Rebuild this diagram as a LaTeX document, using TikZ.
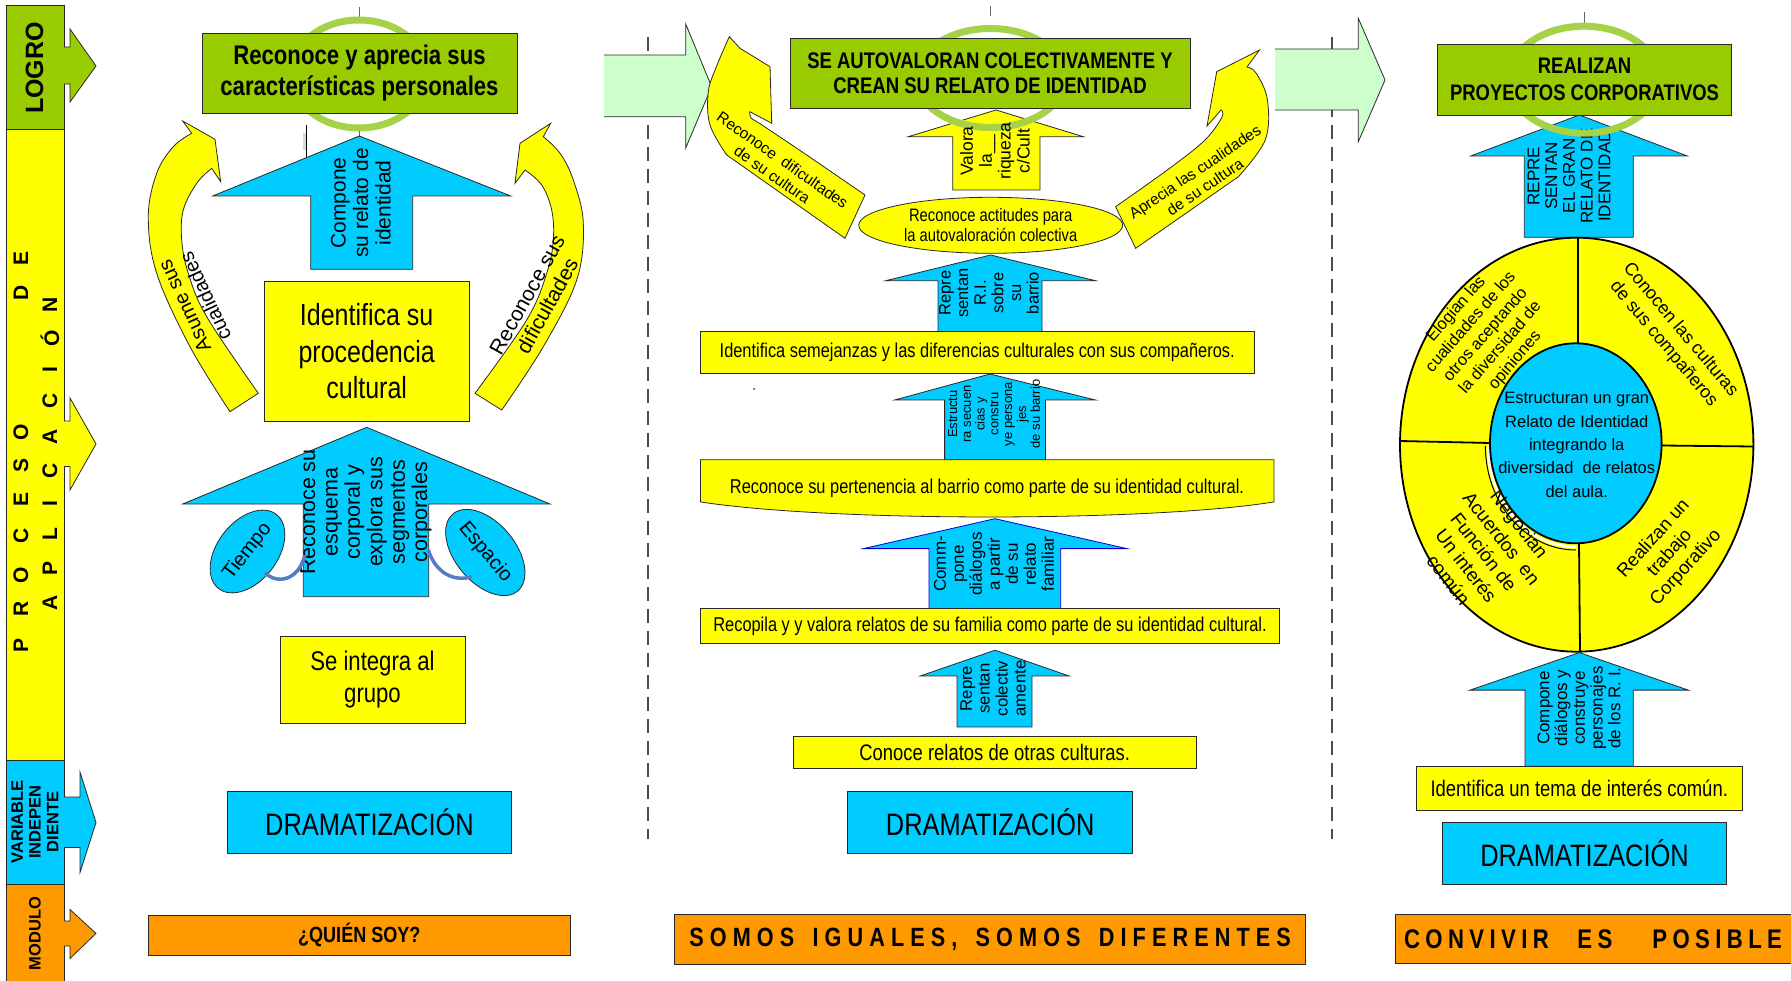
\documentclass[tikz,border=0pt]{standalone}
\usepackage{fontspec}
\setmainfont{Liberation Sans}
\newfontfamily\narrow[FakeStretch=0.82]{Liberation Sans}
\usetikzlibrary{shapes.geometric}
\definecolor{lgreen}{RGB}{153,204,0}
\definecolor{ringgreen}{RGB}{165,210,70}
\definecolor{ylw}{RGB}{255,255,0}
\definecolor{cyn}{RGB}{0,204,255}
\definecolor{org}{RGB}{255,153,0}
\definecolor{pale}{RGB}{204,255,204}
\definecolor{conn}{RGB}{84,125,200}
\definecolor{edge}{RGB}{40,40,40}
\newcommand\fs[2]{\fontsize{#1}{#2}\selectfont}
\makeatletter
\newcommand\spaced[1]{\sp@ced#1\relax}
\def\sp@ced#1{\ifx#1\relax\kern-\spk\else\ifx#1|\hspace{\spw}\else#1\kern\spk\fi\expandafter\sp@ced\fi}
\makeatother
% #1 style, #2 tip x, #3 tip y, #4 head base y, #5 head left x, #6 shaft left x, #7 shaft right x, #8 head right x, #9 bottom y
\newcommand\blockup[9]{\draw[#1] (#2,#3) -- (#8,#4) -- (#7,#4) -- (#7,#9) -- (#6,#9) -- (#6,#4) -- (#5,#4) -- cycle;}
% bar arrows
\newcommand\barrow[8]{%
 \fill[#1] (64,#3) -- (#2,#3) -- (#2,#5) -- (#7,#8) -- (#2,#6) -- (#2,#4) -- (64,#4) -- cycle;
 \draw[shp] (64,#3) -- (#2,#3) -- (#2,#5) -- (#7,#8) -- (#2,#6) -- (#2,#4) -- (64,#4);}
\newcommand\palearrow[8]{%
 \fill[pale] (#1,#3) -- (#2,#3) -- (#2,#5) -- (#7,#8) -- (#2,#6) -- (#2,#4) -- (#1,#4) -- cycle;
 \draw[shp] (#1,#3) -- (#2,#3) -- (#2,#5) -- (#7,#8) -- (#2,#6) -- (#2,#4) -- (#1,#4);}
\begin{document}
\begin{tikzpicture}[x=1pt,y=-1pt,
  shp/.style={draw=edge, line width=0.8pt},
  tx/.style={inner sep=0pt, align=center, text=black},
  bx/.style={draw=edge, line width=0.8pt, inner sep=0pt, align=center},
  sepline/.style={draw=black!70, line width=1.3pt, dash pattern=on 14pt off 8pt},
  ring/.style={draw=ringgreen, line width=7pt},
  tick/.style={draw=black!60, line width=0.8pt},
  link/.style={draw=conn, line width=3.5pt},
  bigtx/.style={font=\narrow\fs{31}{33}}]
\useasboundingbox (0,0) rectangle (1791,981);
\fill[white] (0,0) rectangle (1791,981);

% separators
\coordinate (s1t) at (648,37); \coordinate (s1b) at (648,839);
\draw[sepline] (s1t) -- (s1b);
\coordinate (s2t) at (1332,37); \coordinate (s2b) at (1332,839);
\draw[sepline] (s2t) -- (s2b);

% ===== left bar =====
\draw[shp, fill=lgreen] (6.7,5) rectangle (64,129);
\draw[shp, fill=ylw] (6.7,129) rectangle (64,760);
\draw[shp, fill=cyn] (6.7,760) rectangle (64,884);
\draw[shp, fill=org] (6.7,884) rectangle (64,981);
\barrow{lgreen}{70}{47}{84}{29}{102}{96}{66}
\barrow{ylw}{70}{421}{466.5}{398}{490}{96}{444}
\barrow{cyn}{80}{797}{847.5}{772}{872.6}{96}{822.5}
\barrow{org}{70}{921}{946}{909.5}{958.5}{96}{933.4}
\node[tx, rotate=90, font=\bfseries\fs{25}{27}] (logro) at (34.5,68) {LOGRO};
\foreach \l/\y [count=\i] in {P/645, R/609, O/575, C/536, E/499, S/465, O/432.6, D/293, E/258}
  \node[tx, rotate=90, font=\bfseries\fs{21}{21}] (pa\i) at (21,\y) {\l};
\foreach \l/\y [count=\i] in {A/603, P/568.5, L/533.6, I/504, C/471, A/437, C/401, I/370, Ó/338, N/304.5}
  \node[tx, rotate=90, font=\bfseries\fs{21}{21}] (pb\i) at (49.8,\y) {\l};
\node[tx, rotate=90, font=\bfseries\fs{16.5}{17.8}] (varind) at (35,822) {VARIABLE\\INDEPEN\\DIENTE};
\node[tx, rotate=90, font=\bfseries\fs{16.5}{18}] (modulo) at (35,933.6) {MODULO};

% pale green transition arrows
\palearrow{604}{685.7}{55}{116.7}{24}{148}{711.6}{86.7}
\palearrow{1275}{1358.3}{49}{110}{18.3}{141.7}{1385}{80}

% ===== column 1 =====
\draw[tick] (359,7) -- (359,18);
\draw[ring] (359,74) ellipse [x radius=68pt, y radius=54pt];
\node[bx, fill=lgreen, minimum width=315pt, minimum height=80pt, font=\narrow\bfseries\fs{27}{31}] (g1) at (359.5,73) {Reconoce y aprecia sus\\características personales};
\draw[tick] (359.3,131) -- (359.3,136);
\draw[black, line width=0.6pt] (306,125) -- (306,157);
\fill[black!15] (302.7,133) rectangle (305.5,150);

\blockup{shp,fill=cyn}{359.3}{136}{196}{212.7}{310.7}{412.7}{510.7}{269.3}
\node[tx, rotate=90, font=\fs{21}{22.5}] (t1) at (361,203) {Compone\\su relato de\\identidad};

\draw[shp, fill=ylw] (182.7,121) -- (215,139.3) -- (220.7,181.7) -- (211.7,168.3)
  -- plot[smooth, tension=0.6] coordinates {(211.7,168.3) (196.7,183.3) (183.3,210) (181.7,240) (188.3,273.3) (206.7,316.7) (258.3,393.3)}
  -- (230,411.7)
  -- plot[smooth, tension=0.6] coordinates {(230,411.7) (190,346.7) (156.7,273.3) (148.3,216.7) (156.7,173.3) (173.3,146.7) (191.7,133.3)}
  -- cycle;
\node[tx, rotate=115, font=\fs{20}{23}] (ca1) at (195,301.3) {Asume sus\\cualidades};

\draw[shp, fill=ylw] (550.7,123.3) -- (520,143.3) -- (515,183.3) -- (525,170)
  -- plot[smooth, tension=0.6] coordinates {(525,170) (541.7,185) (551.7,210) (553.3,240) (546.7,273.3) (526.7,320) (475,393.3)}
  -- (501.7,410)
  -- plot[smooth, tension=0.6] coordinates {(501.7,410) (543.3,346.7) (576.7,280) (583.3,223.3) (573.3,180) (560,153.3) (543.3,136.7)}
  -- cycle;
\node[tx, rotate=61, font=\fs{21}{23}] (ca2) at (537.3,300.3) {Reconoce sus\\dificultades};

\node[bx, fill=ylw, minimum width=205.3pt, minimum height=139.3pt, font=\narrow\fs{30.5}{36.7}] (idp) at (366.7,351.3) {Identifica su\\procedencia\\cultural};

\blockup{shp,fill=cyn}{366.7}{427.3}{504}{182.7}{303.3}{428.7}{550}{596.7}
\node[tx, rotate=90, font=\fs{21.5}{22.4}] (t2) at (366,512) {Reconoce su\\esquema\\corporal y\\explora sus\\segmentos\\corporales};

\node[draw=edge, line width=0.8pt, ellipse, fill=cyn, minimum width=94pt, minimum height=60pt, inner sep=0pt, rotate=52, font=\fs{20}{22}] (tiempo) at (247.5,551.5) {Tiempo};
\node[draw=edge, line width=0.8pt, ellipse, fill=cyn, minimum width=94pt, minimum height=60pt, inner sep=0pt, rotate=-50, font=\fs{20}{22}] (espacio) at (485.3,552.5) {Espacio};
\coordinate (tc1) at (265,572.7); \coordinate (tc2) at (305,555);
\draw[link] (tc1) .. controls (276,584) and (298,582) .. (tc2);
\coordinate (ec1) at (428.3,550); \coordinate (ec2) at (471.7,576.7);
\draw[link] (ec1) .. controls (436,574) and (455,582) .. (ec2);

\node[bx, fill=ylw, minimum width=185pt, minimum height=86.5pt, font=\narrow\fs{27}{32}] (integra) at (372.5,679.8) {Se integra al\\grupo};
\node[bx, fill=cyn, minimum width=284.4pt, minimum height=62pt, bigtx] (drama1) at (369.5,822) {DRAMATIZACIÓN};
\node[bx, fill=org, minimum width=421.5pt, minimum height=40.6pt, font=\narrow\bfseries\fs{22}{24}] (mod1) at (359.3,935.3) {¿QUIÉN SOY?};

% ===== column 2 =====
\draw[tick] (990,6) -- (990,16);
\blockup{shp,fill=ylw}{996}{110}{136.7}{908.3}{952.7}{1040}{1083.3}{190}
\draw[ring] (990.6,78) ellipse [x radius=74.5pt, y radius=49.5pt];
\node[tx, rotate=90, font=\fs{17.5}{18.9}] (t3) at (995,151) {Valora\\la\_\_\\riqueza\\c/Cult};
\node[bx, fill=lgreen, minimum width=400pt, minimum height=70pt, font=\narrow\bfseries\fs{22.6}{25}] (g2) at (990,73.3) {SE AUTOVALORAN COLECTIVAMENTE Y\\CREAN SU RELATO DE IDENTIDAD};

\draw[shp, fill=ylw] (729.3,36.7) -- (740,48.3) -- (770,66.7) -- (771.7,123.3) -- (750,111.7)
  -- plot[smooth, tension=0.6] coordinates {(750,111.7) (751,118) (762,125) (806.7,155) (865,195)}
  -- (845,238.3) -- (726.7,155)
  -- plot[smooth, tension=0.6] coordinates {(726.7,155) (710,125) (708.3,91.7) (716.7,66) (729.3,36.7)}
  -- cycle;
\node[tx, rotate=-35, font=\fs{15.5}{18}] (ca3) at (777.5,167.5) {Reconoce\ \ dificultades\\de su cultura};

\draw[shp, fill=ylw] (1259.5,50) -- (1216.7,71.7) -- (1207,126) -- (1221,110)
  -- plot[smooth, tension=0.6] coordinates {(1221,110) (1222,117) (1205,140) (1170,168) (1115.6,206.7)}
  -- (1135.7,248.3) -- (1238.4,176.7)
  -- plot[smooth, tension=0.6] coordinates {(1238.4,176.7) (1265.2,140) (1267.4,100) (1256.3,73.3) (1247,67)}
  -- cycle;
\node[tx, rotate=34, font=\fs{15.5}{18}] (ca4) at (1199.9,179.2) {Aprecia las cualidades\\de su cultura};

\node[draw=edge, line width=0.8pt, ellipse, fill=ylw, minimum width=264pt, minimum height=56pt, inner sep=0pt, align=center, font=\narrow\fs{18}{20}] (actit) at (990.7,225.3) {Reconoce actitudes para\\la autovaloración colectiva};

\blockup{shp,fill=cyn}{990.6}{255}{280.7}{885.7}{938}{1042}{1095.5}{331.7}
\node[tx, rotate=90, font=\fs{16.5}{17.6}] (t4) at (989,293) {Repre\\sentan\\R.I.\\sobre\\su\\barrio};
\node[bx, fill=ylw, minimum width=553.6pt, minimum height=41.6pt, font=\narrow\fs{20}{22}] (semej) at (977.2,352.5) {Identifica semejanzas y las diferencias culturales con sus compañeros.};
\fill (754,389) circle[radius=0.9pt];

\blockup{shp,fill=cyn}{990}{374}{400}{894.6}{944.6}{1045.5}{1095.5}{459.7}
\node[tx, rotate=90, font=\fs{13}{13.8}] (t5) at (994,414) {Estructu\\ra secuen\\cias y\\constru\\ye persona\\jes\\de su barrio};

\draw[shp, fill=ylw] (700.4,459.7) -- (1274,459.7) -- (1274,501.9) .. controls (1150,522) and (830,522) .. (700.4,501.9) -- cycle;
\node[tx, font=\narrow\fs{20}{22}] (perten) at (987,488.6) {Reconoce su pertenencia al barrio como parte de su identidad cultural.};

\blockup{draw=blue!80!black, line width=0.8pt, fill=cyn}{995}{518.7}{548.6}{863.4}{929}{1060.7}{1126.8}{608.8}
\node[tx, rotate=90, font=\fs{17}{18}] (t6) at (994,564) {Comm-\\pone\\diálogos\\a partir\\de su\\relato\\familiar};
\node[bx, fill=ylw, minimum width=579pt, minimum height=35pt, font=\narrow\fs{20}{22}] (recop) at (990,626.3) {Recopila y y valora relatos de su familia como parte de su identidad cultural.};

\blockup{shp,fill=cyn}{995}{650.2}{675.9}{920.5}{957}{1032}{1068.75}{726.9}
\node[tx, rotate=90, font=\fs{16.7}{17.9}] (t7) at (993,688.5) {Repre\\sentan\\colectiv\\amente};
\node[bx, fill=ylw, minimum width=402.7pt, minimum height=31.8pt, font=\narrow\fs{22.5}{24}] (conoce) at (994.7,752.4) {Conoce relatos de otras culturas.};
\node[bx, fill=cyn, minimum width=284.8pt, minimum height=62.1pt, bigtx] (drama2) at (990.2,822.4) {DRAMATIZACIÓN};
\node[bx, fill=org, minimum width=631pt, minimum height=49.8pt, font=\narrow\bfseries\fs{26.4}{28}] (mod2) at (990.1,939.6) {\def\spk{6.1pt}\def\spw{12.1pt}\spaced{SOMOS|IGUALES,|SOMOS|DIFERENTES}};

% ===== column 3 =====
\draw[tick] (1584.3,11.7) -- (1584.3,22.7);
\blockup{shp,fill=cyn}{1579.3}{115}{156}{1470.7}{1524.3}{1633.3}{1687.3}{237.3}
\node[tx, rotate=90, font=\fs{17}{17.7}] (t8) at (1569,176) {REPRE\\SENTAN\\EL GRAN\\RELATO DE\\IDENTIDAD};
\draw[ring] (1584,79.7) ellipse [x radius=75.5pt, y radius=53.5pt];
\node[bx, fill=lgreen, minimum width=294.4pt, minimum height=70.7pt, font=\narrow\bfseries\fs{22.5}{26.7}] (g3) at (1584.5,79.7) {REALIZAN\\PROYECTOS CORPORATIVOS};

\draw[line width=1.8pt, fill=ylw] (1576.7,444.7) ellipse [x radius=176.7pt, y radius=207pt];
\draw[line width=1.8pt] (1578,238) -- (1578,344);
\draw[line width=1.8pt] (1579,543) -- (1580,651.5);
\draw[line width=1.8pt] (1400,441) -- (1490,443);
\draw[line width=1.8pt] (1661.7,445.5) -- (1753.3,446.5);
\draw[line width=1pt] (1485.4,446) arc[start angle=180, end angle=270, x radius=90.4pt, y radius=104pt];
\draw[white, line width=2.4pt] (1487.7,445) arc[start angle=180, end angle=270, x radius=88.1pt, y radius=101.8pt];
\draw[line width=1.8pt, fill=cyn] (1575.8,443.3) ellipse [x radius=85.8pt, y radius=100pt];

\node[tx, rotate=49, font=\fs{16.5}{19.5}] (q1) at (1485.8,335) {Elogian las\\cualidades de los\\otros aceptando\\la diversidad de\\opiniones};
\node[tx, rotate=-50, font=\fs{18}{22}] (q2) at (1672,337) {Conocen las culturas\\de sus compañeros};
\node[tx, font=\fs{16.5}{23.3}] (q3) at (1576.7,445) {Estructuran un gran\\Relato de Identidad\\integrando la\\diversidad\ \ de relatos\\del aula.};
\node[tx, rotate=-52, font=\fs{19}{22.5}] (q4) at (1484,552) {Negocian\\Acuerdos\ \ en\\Función de\\Un interés\\común};
\node[tx, rotate=48, font=\fs{18.5}{21.7}] (q5) at (1670,553.3) {Realizan un\\trabajo\\Corporativo};

\blockup{shp,fill=cyn}{1579.3}{652.6}{690.1}{1470}{1525}{1633.3}{1688.3}{766.3}
\node[tx, rotate=90, font=\fs{17}{17.7}] (t9) at (1579,708) {Compone\\diálogos y\\construye\\personajes\\de los R. I.};
\node[bx, fill=ylw, minimum width=326.3pt, minimum height=43.7pt, font=\narrow\fs{22.5}{24}] (tema) at (1579.2,788.2) {Identifica un tema de interés común.};
\node[bx, fill=cyn, minimum width=284.4pt, minimum height=61.9pt, bigtx] (drama3) at (1584.5,853.5) {DRAMATIZACIÓN};
\node[bx, fill=org, minimum width=396pt, minimum height=49pt, font=\narrow\bfseries\fs{27}{29}] (mod3) at (1593,939.3) {\def\spk{5.4pt}\def\spw{11.55pt}\spaced{CONVIVIR||ES|||POSIBLE}};
\end{tikzpicture}
\end{document}
